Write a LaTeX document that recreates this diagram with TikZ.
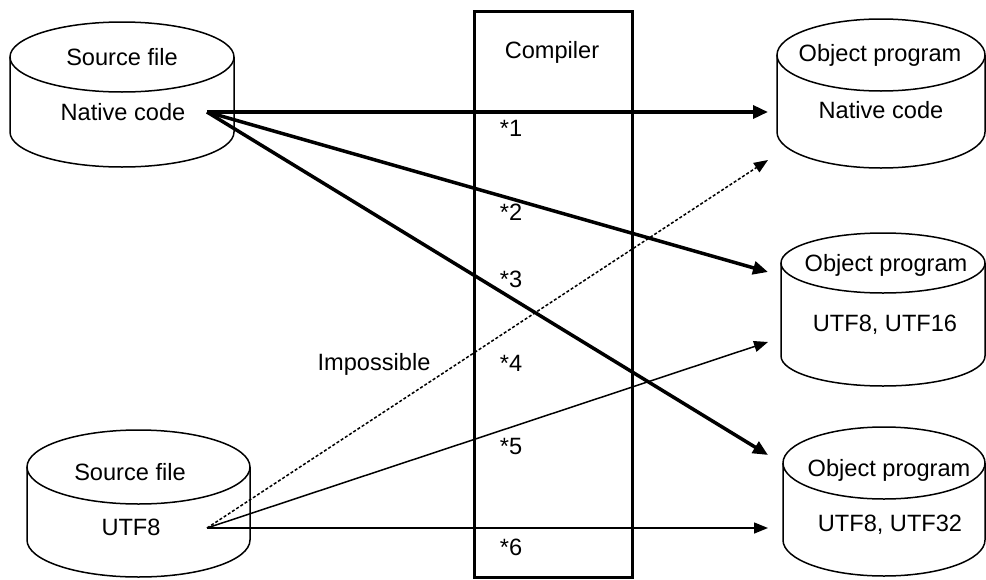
\documentclass[tikz,border=0pt]{standalone}
\usepackage{fontspec}
\setmainfont{Liberation Sans}
\usetikzlibrary{arrows.meta}
\newcommand\drawcyl[5]{%
  \draw[cylline] (#1,#3) ellipse[x radius=#2, y radius=#5];
  \draw[cylline] ({#1-#2},#3) -- ({#1-#2},#4) arc[start angle=180,end angle=0,x radius=#2,y radius=#5] -- ({#1+#2},#3);
}
\begin{document}
\begin{tikzpicture}[x=1pt,y=-1pt,
  lbl/.style={font=\fontsize{23.6}{28}\selectfont, inner sep=0pt, text height=17pt, text depth=0pt, anchor=center},
  cylline/.style={line width=1.5pt},
  boxline/.style={draw, line width=3pt},
  thickarr/.style={line width=3.5pt, -{Triangle[length=15pt,width=13pt]}},
  thinarr/.style={line width=1.5pt, -{Triangle[length=14pt,width=11pt]}},
  dasharr/.style={line width=1.5pt, dash pattern=on 3pt off 2pt, -{Triangle[length=14pt,width=11pt]}}]
\useasboundingbox (0,0) rectangle (986,579);

% cylinders: cx, rx, top-ellipse centre y, bottom-ellipse centre y, ry
\drawcyl{122}{112}{57}{132}{35}
\drawcyl{881}{104}{55}{132}{36}
\drawcyl{883}{102}{263}{356}{30}
\drawcyl{884}{101}{463}{540}{36}
\drawcyl{138.5}{111.5}{467}{540}{37}

% labels
\node[lbl] (sf1a) at (122,57) {Source file};
\node[lbl] (sf1b) at (123,112) {Native code};
\node[lbl] (op1a) at (880,53) {Object program};
\node[lbl] (op1b) at (881,110) {Native code};
\node[lbl] (op2a) at (886,263) {Object program};
\node[lbl] (op2b) at (885,323) {UTF8, UTF16};
\node[lbl] (op3a) at (889,468) {Object program};
\node[lbl] (op3b) at (890,523) {UTF8, UTF32};
\node[lbl] (sf2a) at (130,472) {Source file};
\node[lbl] (sf2b) at (131,527) {UTF8};

% compiler box
\node[boxline, minimum width=158pt, minimum height=566pt, inner sep=0pt] (comp) at (553,294) {};
\node[lbl] (compl) at (552,50) {Compiler};
\node[lbl] (s1) at (511,128) {*1};
\node[lbl] (s2) at (511,212) {*2};
\node[lbl] (s3) at (511,279) {*3};
\node[lbl] (s4) at (511,363) {*4};
\node[lbl] (s5) at (511,446) {*5};
\node[lbl] (s6) at (511,547) {*6};
\node[lbl] (imp) at (374,362) {Impossible};

% connector ends
\coordinate (nout) at (207,112);
\coordinate (uout) at (207,528);
\coordinate (in1) at (768,112);
\coordinate (in1d) at (768,160);
\coordinate (in2) at (768,272);
\coordinate (in2t) at (768,342);
\coordinate (in3) at (768,455);
\coordinate (in3t) at (768,528);

\draw[thickarr] (nout) -- (in1);
\draw[thickarr] (nout) -- (in2);
\draw[thickarr] (nout) -- (in3);
\draw[dasharr] (uout) -- (in1d);
\draw[thinarr] (uout) -- (in2t);
\draw[thinarr] (uout) -- (in3t);
\end{tikzpicture}
\end{document}
